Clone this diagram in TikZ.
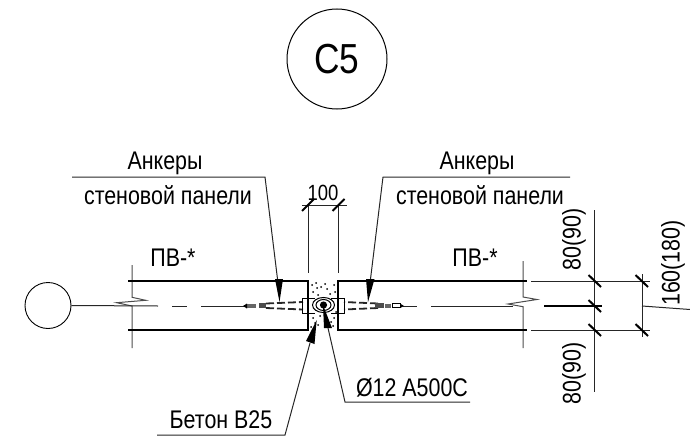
\documentclass[tikz,border=0pt]{standalone}
\usepackage{fontspec}
\setmainfont{Liberation Sans}
\newfontfamily\narrow[FakeStretch=0.84]{Liberation Sans}
\tikzset{
 thinl/.style={line width=1pt,black!85},
 thickl/.style={line width=2.4pt,black},
 tick/.style={line width=2pt,black},
 lab/.style={inner sep=0pt,font=\narrow\fontsize{25.5}{25.5}\selectfont},
 lab100/.style={inner sep=0pt,font=\narrow\fontsize{22}{22}\selectfont},
 big/.style={inner sep=0pt,font=\narrow\fontsize{42}{42}\selectfont},
 anch/.style={line width=1.8pt,dash pattern=on 8pt off 3pt,black!85},
}
\begin{document}
\begin{tikzpicture}[x=1pt,y=-1pt]
\useasboundingbox (0,0) rectangle (690,436);
% title
\node[circle,draw,line width=1pt,minimum size=100pt,inner sep=0pt] (title) at (337,59) {};
\node[big] (titletext) at (337,59) {C5};
% grid bubble
\node[circle,draw,line width=0.9pt,minimum size=46pt,inner sep=0pt] (bubble) at (48,305.5) {};
% break lines
\coordinate (axisL) at (158,306);
\draw[thinl,black!70,line width=1pt] (132,265) -- (132,297.3) -- (145.7,300.3) -- (116.7,302.7) -- (132,306) -- (132,348);
\draw[thinl,black!70,line width=1pt] (523,261) -- (523,297) -- (537,299.5) -- (508,304) -- (523,306.7) -- (523,348);
\draw[thinl] (bubble.east) -- (axisL);
% panels
\draw[thickl] (128,281) -- (308,281) (128,330) -- (308,330);
\draw[thickl] (338,281) -- (527,281) (338,330) -- (527,330);
\fill (306.8,280) rectangle (309.4,331.2);
\fill (336.8,280) rectangle (339.4,331.2);
% axes
\draw[thinl] (172,306) -- (187,306) (201,306) -- (245,306);
\draw[thinl] (403,306) -- (417,306) (431,306) -- (513,306);
\draw[line width=1.4pt] (544,306) -- (602,306);
% concrete
\foreach \p in {(312,285),(316,283),(321,287),(327,289),(334,285),(313,292),(318,295),(330,294),(335,292),(325,284),(313,318),(315,323),(311,327),(320,316),(318,325),(334,318),(333,326),(336,312),(317,288),(331,322)}
  \fill \p circle (1pt);
% anchors left
\draw[anch] (266,303.5) -- (303,302);
\draw[anch] (266,308) -- (303,309.5);
\draw[line width=1pt] (302,298) rectangle (308,313);
\draw[line width=1pt] (302,298) -- (315,298) (302,313) -- (315,313);
\fill[black!60] (246,303.5) rectangle (256,307.5);
\fill[black!70] (259,303) rectangle (266,308);
\fill (243,306) -- (247,303.5) -- (247,308.5) -- cycle;
% anchors right
\draw[anch] (378,303.5) -- (344,302);
\draw[anch] (378,308) -- (344,309.5);
\draw[line width=1pt] (338,298) rectangle (344,313);
\draw[line width=1pt] (344,298) -- (331,298) (344,313) -- (331,313);
\fill[black!70] (375,302.5) rectangle (384,308);
\fill[black!60] (385,303.5) rectangle (391,307.5);
\draw[line width=1pt] (392,303) rectangle (400,307.5);
\fill (400,303.5) -- (404,306) -- (400,308) -- cycle;
% ring
\draw[line width=1pt] (323.5,305) ellipse (11pt and 7.5pt);
\draw[line width=1pt] (323.5,305) ellipse (7.5pt and 5.5pt);
\fill (323.5,305) circle (3.6pt);
% dimension 100
\draw[thinl] (302,205) -- (347,205);
\draw[thinl] (308,205) -- (308,273) (338.5,205) -- (338.5,273);
\draw[tick] (302,211) -- (314,199) (332.5,211) -- (344.5,199);
\node[lab100] (t100) at (323,192.5) {100};
% dimension right
\draw[thinl] (531,281) -- (650,281) (531,330) -- (650,330);
\draw[thinl] (594.5,210) -- (594.5,392);
\draw[thinl] (642,274) -- (642,337);
\foreach \yy in {281,306,330}
  \draw[tick] (588.5,\yy-6) -- (601,\yy+6);
\foreach \yy in {281,330}
  \draw[tick] (635.5,\yy-6) -- (648,\yy+6);
\draw[thinl] (642,306) -- (690,309.5);
\node[lab,rotate=90] (t80a) at (574,239.5) {80(90)};
\node[lab,rotate=90] (t80b) at (574,373.5) {80(90)};
\node[lab,rotate=90] (t160) at (673,263) {160(180)};
% panel marks
\node[lab] (pv1) at (173,258) {ПВ-*};
\node[lab] (pv2) at (475,258) {ПВ-*};
% leaders
\coordinate (la) at (265,177); \coordinate (ra) at (383,177);
\draw[thinl] (72,177) -- (la) -- (277.5,279);
\draw[thinl] (570,177) -- (ra) -- (370.5,279);
\fill (275,279) -- (283,279) -- (279.5,302) -- cycle;
\fill (366,279) -- (374.5,279) -- (368,302) -- cycle;
\node[lab] (an1) at (165,163) {Анкеры};
\node[lab] (st1) at (168,195) {стеновой панели};
\node[lab] (an2) at (477,163) {Анкеры};
\node[lab] (st2) at (480,195) {стеновой панели};
% bottom leaders
\draw[thinl] (157,435) -- (285,435) -- (310,343);
\fill (306,341) -- (314.5,344) -- (316.7,320) -- cycle;
\node[lab] (beton) at (221,420) {Бетон B25};
\draw[thinl] (470,402) -- (345,402) -- (328,328);
\fill (324,328) -- (332,328) -- (323,305) -- cycle;
\node[lab] (rebar) at (412,388) {Ø12 A500C};
\end{tikzpicture}
\end{document}
